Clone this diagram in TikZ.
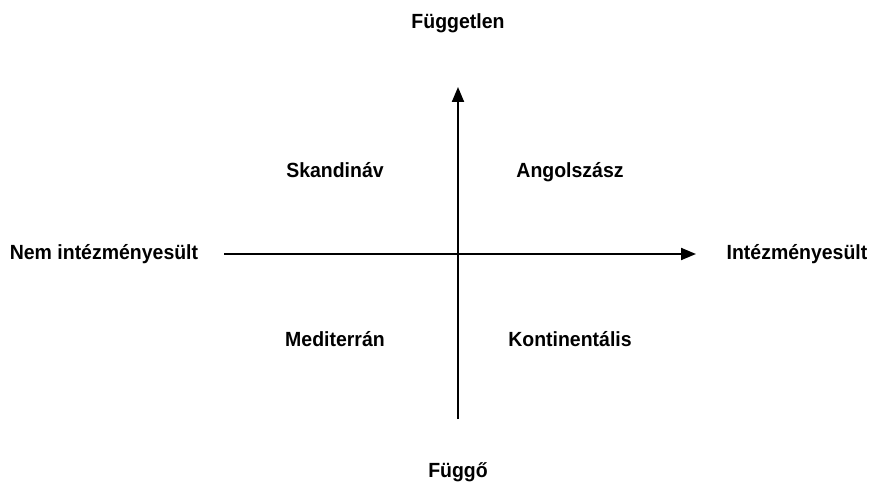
\documentclass[tikz,border=0pt]{standalone}
\usepackage{fontspec}
\setmainfont{Liberation Sans}[FakeStretch=0.95]
\usetikzlibrary{arrows.meta}
\begin{document}
\begin{tikzpicture}[x=1pt,y=-1pt,
  lbl/.style={font=\bfseries\fontsize{20.5}{22}\selectfont, inner sep=0pt, anchor=base},
  axis/.style={line width=2pt, -{Triangle[length=15pt,width=12pt]}}]
\useasboundingbox (0,0) rectangle (875,484);
\coordinate (vb) at (458,419);
\coordinate (vt) at (458,87);
\coordinate (hl) at (224,254);
\coordinate (hr) at (696,254);
\draw[axis] (vb) -- (vt);
\draw[axis] (hl) -- (hr);
\node[lbl] (top) at (458,29) {Független};
\node[lbl] (bot) at (458,477) {Függő};
\node[lbl] (left) at (104,259) {Nem intézményesült};
\node[lbl] (right) at (797,259) {Intézményesült};
\node[lbl] (sk) at (335,177) {Skandináv};
\node[lbl] (an) at (570,177) {Angolszász};
\node[lbl] (me) at (335,346) {Mediterrán};
\node[lbl] (ko) at (570,346) {Kontinentális};
\end{tikzpicture}
\end{document}
